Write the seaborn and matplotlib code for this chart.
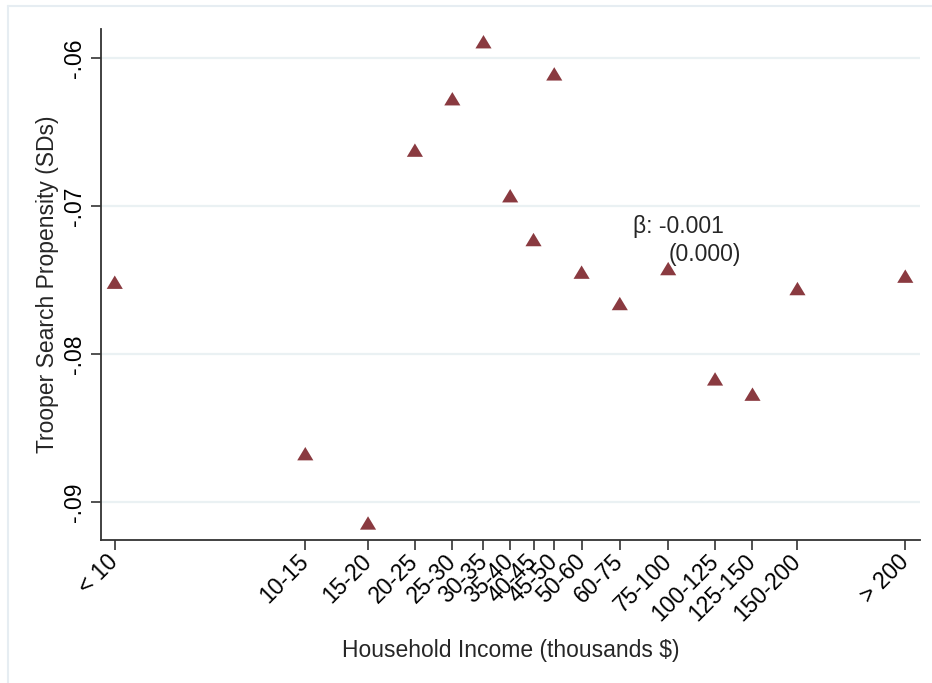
import numpy as np
import matplotlib
matplotlib.use('Agg')
import matplotlib.pyplot as plt
from matplotlib.lines import Line2D
import seaborn as sns

# income brackets (thousands $), plotted at bracket midpoints on a log axis
income_labels = ['< 10', '10-15', '15-20', '20-25', '25-30', '30-35', '35-40', '40-45',
                 '45-50', '50-60', '60-75', '75-100', '100-125', '125-150', '150-200', '> 200']
income_mid = [4.5, 12.5, 17.5, 22.5, 27.5, 32.5, 37.5, 42.5,
              47.5, 55, 67.5, 87.5, 112.5, 137.5, 175, 312]
search_prop = [-0.07514, -0.08672, -0.09140, -0.06622, -0.06275, -0.05890, -0.06930, -0.07226,
               -0.06107, -0.07446, -0.07658, -0.07422, -0.08167, -0.08270, -0.07557, -0.07473]

y_ticks = [-0.09, -0.08, -0.07, -0.06]
y_ticklabels = ['-.09', '-.08', '-.07', '-.06']

sns.set_style('white')
plt.rcParams['font.family'] = ['Liberation Sans', 'DejaVu Sans']
FS = 16.5

fig = plt.figure(figsize=(9.32, 6.83), dpi=100)
ax = fig.add_axes([101 / 932, 143 / 683, 819 / 932, 511 / 683])

# stata-like wide triangle
tri = [(-1, -0.83), (1, -0.83), (0, 0.83), (-1, -0.83)]
sns.scatterplot(x=income_mid, y=search_prop, marker=tri, s=135, color='#8A3A40',
                edgecolor='none', ax=ax, zorder=3)

ax.set_xscale('log')
ax.set_xlim(4.18, 337.6)
ax.set_ylim(-0.09255, -0.05804)

ax.set_xticks(income_mid)
ax.set_xticklabels(income_labels)
ax.minorticks_off()
ax.set_yticks(y_ticks)
ax.set_yticklabels(y_ticklabels, rotation=90, va='center')

ax.tick_params(axis='both', direction='out', length=7, width=1.2, color='#333333',
               labelsize=FS, labelcolor='black', left=True, bottom=True)
ax.tick_params(axis='y', pad=4)
for lab in ax.get_xticklabels():
    lab.set_rotation(45)
    lab.set_ha('right')
    lab.set_va('center')
    lab.set_rotation_mode('anchor')
ax.tick_params(axis='x', pad=6)

ax.yaxis.grid(True, color='#EAF1F3', linewidth=1.6)
ax.xaxis.grid(False)
ax.set_axisbelow(True)

for side in ['top', 'right']:
    ax.spines[side].set_visible(False)
for side in ['left', 'bottom']:
    ax.spines[side].set_color('#333333')
    ax.spines[side].set_linewidth(1.3)

ax.set_xlabel('Household Income (thousands $)', fontsize=FS, labelpad=10)
ax.set_ylabel('Trooper Search Propensity (SDs)', fontsize=FS, labelpad=2.5)

ax.text(72.35, -0.0718, 'β: -0.001', fontsize=FS, ha='left', va='baseline')
ax.text(87.9, -0.07374, '(0.000)', fontsize=FS, ha='left', va='baseline')

# light outer frame
fig.add_artist(Line2D([8 / 932, 8 / 932], [0, 1 - 6 / 683], transform=fig.transFigure,
                      color='#E6EDF2', linewidth=1.5))
fig.add_artist(Line2D([8 / 932, 1], [1 - 6 / 683, 1 - 6 / 683], transform=fig.transFigure,
                      color='#E6EDF2', linewidth=1.5))

fig.savefig('out.png', dpi=100, facecolor='white')
